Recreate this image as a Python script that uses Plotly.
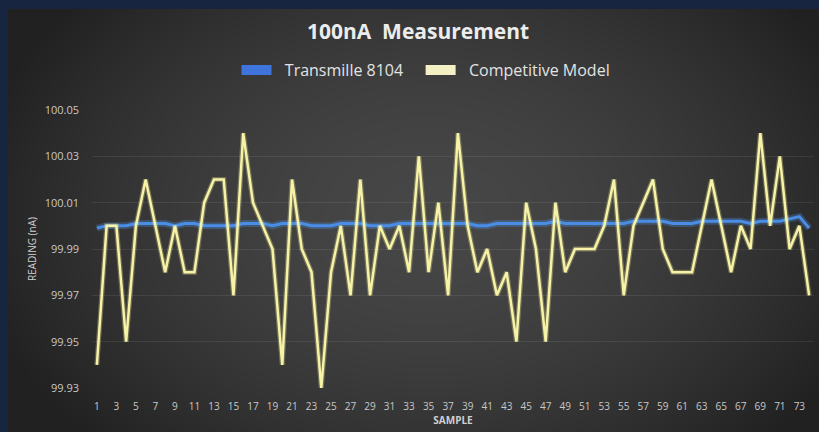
import base64
import struct
import zlib

import numpy as np
import plotly.graph_objects as go

# ---------------- data ----------------
samples = list(range(1, 75))

transmille_8104 = [
    99.999, 100.000, 100.000, 100.000, 100.001, 100.001, 100.001, 100.001, 100.000, 100.001,
    100.001, 100.000, 100.000, 100.000, 100.000, 100.001, 100.001, 100.001, 100.000, 100.001,
    100.001, 100.001, 100.000, 100.000, 100.000, 100.001, 100.001, 100.001, 100.000, 100.000,
    100.000, 100.001, 100.001, 100.001, 100.001, 100.001, 100.001, 100.001, 100.001, 100.000,
    100.000, 100.001, 100.001, 100.001, 100.001, 100.001, 100.001, 100.002, 100.001, 100.001,
    100.001, 100.001, 100.001, 100.001, 100.001, 100.002, 100.002, 100.002, 100.002, 100.001,
    100.001, 100.001, 100.002, 100.002, 100.002, 100.002, 100.002, 100.001, 100.002, 100.002,
    100.002, 100.003, 100.004, 99.999,
]

competitive_model = [
    99.94, 100.00, 100.00, 99.95, 100.00, 100.02, 100.00, 99.98, 100.00, 99.98,
    99.98, 100.01, 100.02, 100.02, 99.97, 100.04, 100.01, 100.00, 99.99, 99.94,
    100.02, 99.99, 99.98, 99.93, 99.98, 100.00, 99.97, 100.02, 99.97, 100.00,
    99.99, 100.00, 99.98, 100.03, 99.98, 100.01, 99.97, 100.04, 100.00, 99.98,
    99.99, 99.97, 99.98, 99.95, 100.01, 99.99, 99.95, 100.01, 99.98, 99.99,
    99.99, 99.99, 100.00, 100.02, 99.97, 100.00, 100.01, 100.02, 99.99, 99.98,
    99.98, 99.98, 100.00, 100.02, 100.00, 99.98, 100.00, 99.99, 100.04, 100.00,
    100.03, 99.99, 100.00, 99.97,
]

x_tick_vals = list(range(1, 75, 2))
x_tick_text = [str(v) for v in x_tick_vals]
y_tick_vals = [99.93, 99.95, 99.97, 99.99, 100.01, 100.03, 100.05]
y_tick_text = ["99.93", "99.95", "99.97", "99.99", "100.01", "100.03", "100.05"]

assert len(transmille_8104) == len(samples) == len(competitive_model)

NBSP = "\u00a0"

# ---------------- geometry ----------------
W, H = 819, 432
ML, MR, MT, MB = 92, 5, 110, 44
PW, PH = W - ML - MR, H - MT - MB

# panel background gradient (rendered as an inline PNG)
PANEL_L, PANEL_T = 8, 9
pw, ph = W - PANEL_L, H - PANEL_T
gw, gh = pw // 2, ph // 2
xs = np.linspace(PANEL_L, W, gw)
ys = np.linspace(PANEL_T, H, gh)
X, Y = np.meshgrid(xs, ys)
d = np.sqrt(((X - 430) / 470.0) ** 2 + ((Y - 215) / 330.0) ** 2)
d = np.clip(d, 0, 1)
v = 0x21 + (0x47 - 0x21) * (1 - d ** 1.7)
img = np.stack([v, v, v * 1.0], axis=-1).clip(0, 255).astype(np.uint8)


def png_uri(arr):
    h, w, _ = arr.shape
    raw = b"".join(b"\x00" + arr[i].tobytes() for i in range(h))

    def chunk(t, data):
        c = struct.pack(">I", len(data)) + t + data
        return c + struct.pack(">I", zlib.crc32(t + data) & 0xFFFFFFFF)

    png = (b"\x89PNG\r\n\x1a\n"
           + chunk(b"IHDR", struct.pack(">IIBBBBB", w, h, 8, 2, 0, 0, 0))
           + chunk(b"IDAT", zlib.compress(raw, 9))
           + chunk(b"IEND", b""))
    return "data:image/png;base64," + base64.b64encode(png).decode()


fig = go.Figure()

# blue glow + core
fig.add_trace(go.Scatter(x=samples, y=transmille_8104, mode="lines",
                         line=dict(color="rgba(80,150,240,0.28)", width=7),
                         showlegend=False, hoverinfo="skip"))
fig.add_trace(go.Scatter(x=samples, y=transmille_8104, mode="lines",
                         line=dict(color="#4a8de6", width=3),
                         name="Transmille 8104", showlegend=False))
# yellow
fig.add_trace(go.Scatter(x=samples, y=competitive_model, mode="lines",
                         line=dict(color="rgba(240,236,140,0.3)", width=5),
                         showlegend=False, hoverinfo="skip"))
fig.add_trace(go.Scatter(x=samples, y=competitive_model, mode="lines",
                         line=dict(color="#f6f2a8", width=2.5),
                         name="Competitive Model", showlegend=False))

# legend entries (box-like swatches)
fig.add_trace(go.Scatter(x=[None], y=[None], mode="lines",
                         name=NBSP * 2 + "Transmille 8104" + NBSP * 3,
                         line=dict(width=10, color="#3f74dc")))
fig.add_trace(go.Scatter(x=[None], y=[None], mode="lines",
                         name=NBSP * 2 + "Competitive Model",
                         line=dict(width=10, color="#f3f1c4")))

fig.update_layout(
    width=W, height=H,
    margin=dict(l=ML, r=MR, t=MT, b=MB, pad=0),
    paper_bgcolor="#172540",
    plot_bgcolor="rgba(0,0,0,0)",
    font=dict(family="Open Sans", color="#d9d9d9"),
    title=dict(text="<b>100nA  Measurement</b>", x=(418 - ML) / PW, xref="paper",
               xanchor="center", y=1 - 32 / H, yanchor="middle",
               font=dict(family="Open Sans", size=21, color="#ececec")),
    legend=dict(orientation="h", x=(426 - ML) / PW, xanchor="center",
                y=(H - MB - 70) / PH, yanchor="middle",
                font=dict(family="Open Sans", size=16, color="#e3e3e3"),
                bgcolor="rgba(0,0,0,0)", tracegroupgap=0),
    xaxis=dict(range=[0.5, 74.5], tickvals=x_tick_vals, ticktext=x_tick_text,
               showgrid=False, zeroline=False, showline=False,
               tickfont=dict(size=10, color="#c8c8c8"), ticklabelstandoff=11,
               title=dict(text="<b>SAMPLE</b>", font=dict(size=10, color="#d0d0d0"),
                          standoff=4)),
    yaxis=dict(range=[99.93, 100.05], tickvals=y_tick_vals, ticktext=y_tick_text,
               showgrid=True, gridcolor="rgba(255,255,255,0.08)", gridwidth=1,
               zeroline=False, showline=False,
               tickfont=dict(size=11, color="#c8c8c8"), ticklabelstandoff=12,
               title=dict(text="READING (nA)", font=dict(size=10, color="#d0d0d0"),
                          standoff=6)),
    images=[dict(source=png_uri(img), xref="paper", yref="paper",
                 x=(PANEL_L - ML) / PW, y=(H - MB - PANEL_T) / PH,
                 sizex=pw / PW, sizey=ph / PH, xanchor="left", yanchor="top",
                 sizing="stretch", layer="below")],
)

fig.write_html("out.html", config={"displayModeBar": False},
               post_script="document.body.style.margin='0';document.body.style.padding='0';")
